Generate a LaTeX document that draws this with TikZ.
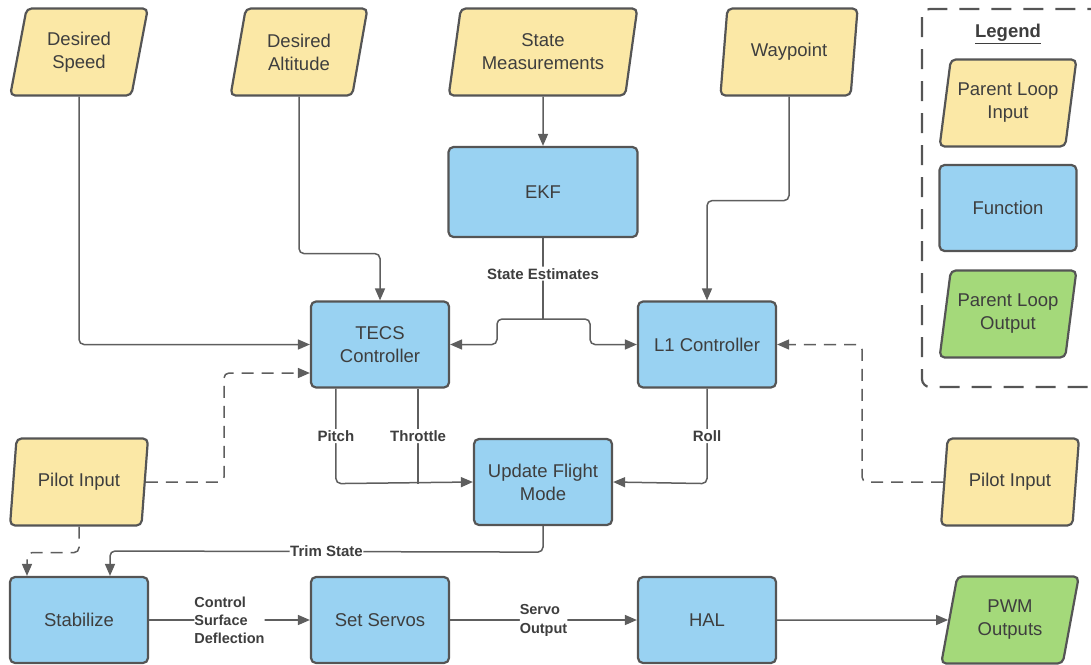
\documentclass[tikz,border=0pt]{standalone}
\usepackage{fontspec}
\setmainfont{Liberation Sans}
\usetikzlibrary{shapes.geometric,arrows.meta}
\definecolor{inpfill}{HTML}{FBE8A6}
\definecolor{fnfill}{HTML}{99D2F2}
\definecolor{outfill}{HTML}{A4D97A}
\definecolor{edge}{HTML}{555555}
\definecolor{wire}{HTML}{5E5E5E}
\definecolor{ink}{HTML}{3E3E3E}
\tikzset{
  box/.style={draw=edge, line width=2.2pt, rounded corners=5pt, text=ink,
    align=center, inner sep=0pt, font=\fontsize{18.5}{23}\selectfont},
  fn/.style={box, rectangle, fill=fnfill, minimum width=138pt, minimum height=86pt},
  para/.style={box, trapezium, trapezium left angle=76, trapezium right angle=104,
    trapezium stretches=true, minimum width=138pt, minimum height=87pt},
  inp/.style={para, fill=inpfill},
  outp/.style={para, fill=outfill},
  conn/.style={draw=wire, line width=1.5pt, rounded corners=5pt,
    -{Triangle[length=12pt,width=10pt]}},
  wireonly/.style={draw=wire, line width=1.5pt, rounded corners=5pt},
  dconn/.style={conn, dash pattern=on 12pt off 8pt},
  lbl/.style={fill=white, text=ink, inner sep=1.5pt,
    font=\fontsize{15}{18}\selectfont\bfseries},
}
\begin{document}
\begin{tikzpicture}[x=1pt, y=-1pt]
\useasboundingbox (0,0) rectangle (1091,664);

% inputs along the top
\node[inp] (ds) at (79,52) {Desired\\Speed};
\node[inp] (da) at (299,52) {Desired\\Altitude};
\node[inp, minimum width=189pt] (sm) at (543,52) {State\\Measurements};
\node[inp] (wp) at (789,52) {Waypoint};

% function blocks
\node[fn, minimum width=189pt, minimum height=90pt] (ekf) at (543,192) {EKF};
\node[fn] (tecs) at (380,344.5) {TECS\\Controller};
\node[fn] (l1) at (707,344.5) {L1 Controller};
\node[fn] (ufm) at (543,482) {Update Flight\\Mode};
\node[fn] (stab) at (79,620) {Stabilize};
\node[fn] (servos) at (380,620) {Set Servos};
\node[fn] (hal) at (707,620) {HAL};

% pilot inputs and outputs
\node[inp] (pilL) at (79,482) {Pilot Input};
\node[inp] (pilR) at (1010,482) {Pilot Input};
\node[outp] (pwm) at (1010,620) {PWM\\Outputs};

% legend
\draw[draw=edge, line width=2.2pt, rounded corners=8pt, dash pattern=on 20pt off 12pt]
  (922,9) rectangle (1110,387);
\node[text=ink, font=\fontsize{18.5}{23}\selectfont\bfseries] (legtitle) at (1008,34) {\underline{Legend}};
\node[inp, minimum width=137pt] (legin) at (1008,103) {Parent Loop\\Input};
\node[fn, minimum width=137pt] (legfn) at (1008,208) {Function};
\node[outp, minimum width=137pt] (legout) at (1008,314) {Parent Loop\\Output};

% setpoints into the controllers
\draw[conn] (ds.south) |- (tecs.west);
\draw[conn] (da.south) -- ++(0,157) -| (tecs.north);
\draw[conn] (sm.south) -- (ekf.north);
\draw[conn] (wp.south) -- ++(0,104) -| (l1.north);

% state estimates split to both controllers
\draw[wireonly] (ekf.south) -- node[lbl, pos=0.44] (selbl) {State Estimates} (543,319);
\draw[conn] (543,319) -- (497,319) -- (497,344.5) -- (tecs.east);
\draw[conn] (543,319) -- (590,319) -- (590,344.5) -- (l1.west);

% pilot overrides
\draw[dconn] (pilL.east) -| (224,373) -- ([yshift=-28.5pt]tecs.west);
\draw[dconn] (pilR.west) -| (862,344.5) -- (l1.east);

% controller outputs to flight mode
\draw[conn] ([xshift=26pt]tecs.south west) -- node[lbl] (pitch) {Pitch} ++(0,95) -- (ufm.west);
\draw[wireonly] ([xshift=-32pt]tecs.south east) -- node[lbl] (thr) {Throttle} ++(0,95);
\draw[conn] (l1.south) -- node[lbl] (roll) {Roll} ++(0,95) -- (ufm.east);

% into the stabilizer
\draw[dconn] (pilL.south) -- ++(0,26) -| ([xshift=-52pt]stab.north);
\draw[conn] (ufm.south) -- ++(0,26) -- node[lbl, inner sep=0.5pt] (trim) {Trim State} (110,551) -- ([xshift=31pt]stab.north);

% output chain
\draw[conn] (stab.east) -- node[lbl, align=left, inner sep=0pt, font=\fontsize{14.5}{18}\selectfont\bfseries] (csd) {Control\\Surface\\Deflection} (servos.west);
\draw[conn] (servos.east) -- node[lbl, align=left, inner sep=0pt, font=\fontsize{14.5}{19}\selectfont\bfseries] (so) {Servo\\Output} (hal.west);
\draw[conn] (hal.east) -- (pwm.west);
\end{tikzpicture}
\end{document}
